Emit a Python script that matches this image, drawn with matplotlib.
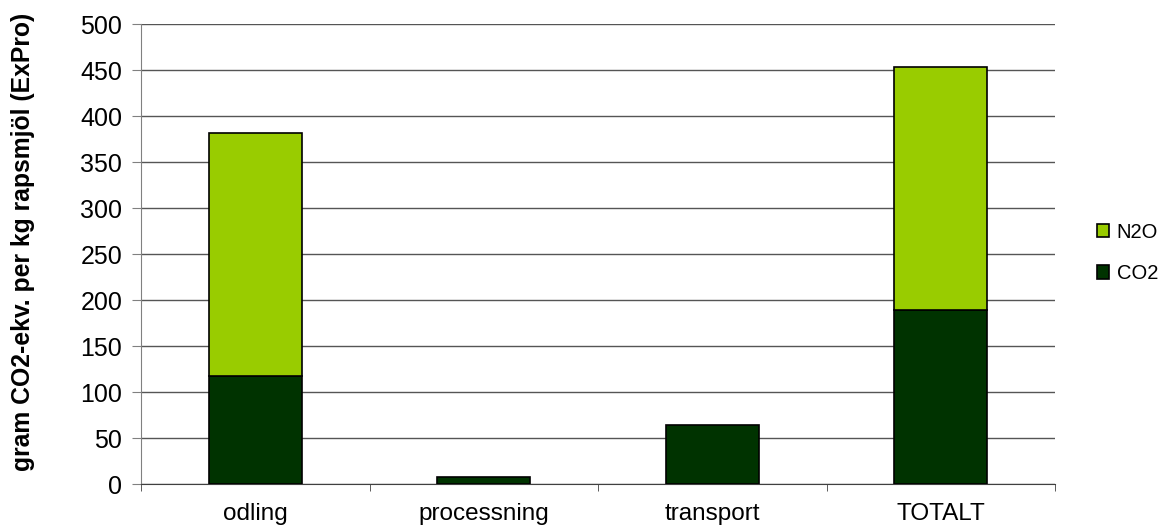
import matplotlib.pyplot as plt
import numpy as np

plt.rcParams['font.family'] = ['Liberation Sans', 'DejaVu Sans']

categories = ['odling', 'processning', 'transport', 'TOTALT']
co2 = [117, 8, 64, 189]
n2o = [264, 0, 0, 264]

co2_color = '#003300'
n2o_color = '#99cc00'

W, H = 1168, 529
fig = plt.figure(figsize=(W / 100, H / 100), dpi=100)
ax = fig.add_axes([141 / W, 1 - 484 / H, 914 / W, 460 / H])

x = np.arange(len(categories))
width = 0.406
ax.bar(x, co2, width, color=co2_color, edgecolor='black', linewidth=1.2, label='CO2', zorder=3)
n2o_bars = ax.bar(x, n2o, width, bottom=co2, color=n2o_color, edgecolor='black',
                  linewidth=1.2, label='N2O', zorder=3)
# empty N2O segments should not leave an outline line
for bar, v in zip(n2o_bars, n2o):
    if v == 0:
        bar.set_visible(False)

ax.set_xlim(-0.5, len(categories) - 0.5)
ax.set_ylim(0, 500)
ax.set_yticks(range(0, 501, 50))
ax.tick_params(axis='y', labelsize=18, length=6.5, color='#808080', direction='out', pad=7)
ax.yaxis.grid(True, color='#555555', linewidth=1, zorder=0)

ax.set_xticks(x)
ax.set_xticklabels(categories, fontsize=17.5)
ax.set_xticks(np.arange(-0.5, len(categories), 1), minor=True)
ax.tick_params(axis='x', which='major', length=0, pad=14)
ax.tick_params(axis='x', which='minor', length=5, color='#404040')

for side in ['top', 'right']:
    ax.spines[side].set_visible(False)
ax.spines['left'].set_color('#808080')
ax.spines['bottom'].set_color('#404040')

ax.set_ylabel('gram CO2-ekv. per kg rapsmjöl (ExPro)', fontsize=17.8, fontweight='bold')
ax.yaxis.set_label_coords((35 - 141) / 914, 0.527)

handles, labels = ax.get_legend_handles_labels()
fig.legend(handles[::-1], labels[::-1], loc='center left',
           bbox_to_anchor=(1097 / W, 1 - 253 / H), bbox_transform=fig.transFigure,
           frameon=False, fontsize=14.5, handlelength=0.62, handleheight=0.62,
           handletextpad=0.35, labelspacing=1.1, borderpad=0, borderaxespad=0)

fig.savefig('out.png', dpi=100)
